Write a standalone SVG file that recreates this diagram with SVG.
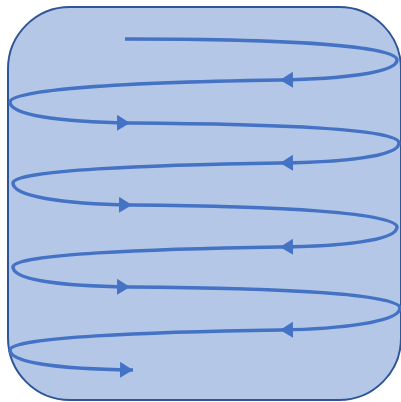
<svg xmlns="http://www.w3.org/2000/svg" width="401" height="402" viewBox="0 0 401 402">
<style>
.box{fill:#B4C7E7;stroke:#2F5597;stroke-width:2}
.sp{fill:none;stroke:#4472C4;stroke-width:3.5;marker-end:url(#ah)}
</style>
<defs>
<marker id="ah" markerUnits="userSpaceOnUse" markerWidth="15" markerHeight="17" refX="13" refY="8" orient="auto">
<path d="M0,0 L13,8 L0,16 Z" fill="#4472C4"/>
</marker>
</defs>
<g id="container">
<rect class="box" x="8" y="7" width="393" height="393" rx="62" ry="62"/>
</g>
<g id="connectors">
<path class="sp" d="M125,39 C290,39 397,46 397,60 C397,73 340,79 280,80"/>
<path class="sp" d="M280,80 C150,82 10,88 10,102 C10,115 60,122 130,123"/>
<path class="sp" d="M130,123 C280,124 399,129 399,143 C399,157 340,162 280,163"/>
<path class="sp" d="M280,163 C150,165 13,170 13,183 C13,196 60,204 132,205"/>
<path class="sp" d="M132,205 C280,206 397,213 397,227 C397,241 340,246 280,247"/>
<path class="sp" d="M280,247 C150,249 13,254 13,267 C13,280 60,286 130,287"/>
<path class="sp" d="M130,287 C280,288 400,294 400,308 C400,322 340,329 280,330"/>
<path class="sp" d="M280,330 C150,332 10,337 10,350 C10,363 60,369 133,370"/>
</g>
</svg>
